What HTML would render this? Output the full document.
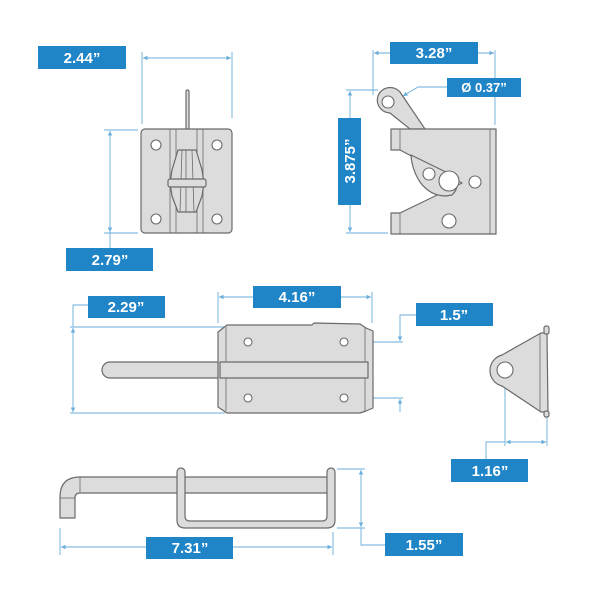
<!DOCTYPE html>
<html><head><style>
html,body{margin:0;padding:0;background:#fff}
svg{display:block}
.p{fill:#dcdcdc;stroke:#6a6a6a;stroke-width:1.2;stroke-linejoin:round}
.l{stroke:#6a6a6a;stroke-width:0.8;fill:none}
.h{fill:#fff;stroke:#6a6a6a;stroke-width:1.1}
.d{stroke:#6aaedb;stroke-width:0.9;fill:none}
.b{fill:#1f85c7}
.t{fill:#fff;font-family:"Liberation Sans",sans-serif;font-weight:bold;font-size:15px;text-anchor:middle}
</style></head><body>
<svg width="600" height="600" viewBox="0 0 600 600" xmlns="http://www.w3.org/2000/svg">
<defs>
<marker id="a" viewBox="0 0 6 6" refX="6" refY="3" markerWidth="5" markerHeight="5" orient="auto-start-reverse"><path d="M0,0L6,3L0,6z" fill="#6aaedb"/></marker>
</defs>

<!-- Part 1 -->
<line class="d" x1="142" y1="52" x2="142" y2="124"/>
<line class="d" x1="232" y1="52" x2="232" y2="118"/>
<line class="d" x1="143" y1="58" x2="231" y2="58" marker-start="url(#a)" marker-end="url(#a)"/>
<line class="d" x1="104" y1="130" x2="138" y2="130"/>
<line class="d" x1="104" y1="233" x2="138" y2="233"/>
<line class="d" x1="110" y1="131" x2="110" y2="232" marker-start="url(#a)" marker-end="url(#a)"/>
<line class="d" x1="110" y1="232" x2="110" y2="248"/>
<rect class="p" x="186" y="90" width="3" height="40" rx="1.5"/>
<rect class="p" x="141" y="129" width="91" height="104" rx="4"/>
<line class="l" x1="170" y1="129" x2="170" y2="233"/><line class="l" x1="176" y1="129" x2="176" y2="233"/>
<line class="l" x1="197" y1="129" x2="197" y2="233"/><line class="l" x1="203" y1="129" x2="203" y2="233"/>
<path class="p" d="M178,150 L196,150 L202,170 L204,183 L202,196 L196,212 L178,212 L172,196 L170,183 L172,170 Z"/>
<line class="l" x1="182" y1="150" x2="180" y2="212"/><line class="l" x1="192" y1="150" x2="194" y2="212"/>
<line class="l" x1="186" y1="150" x2="186" y2="212"/>
<rect class="p" x="168" y="179" width="38" height="8" rx="2"/>
<circle class="h" cx="156" cy="145" r="5"/><circle class="h" cx="217" cy="145" r="5"/>
<circle class="h" cx="156" cy="219" r="5"/><circle class="h" cx="217" cy="219" r="5"/>
<rect class="b" x="38" y="46" width="88" height="23"/><text class="t" x="82" y="63">2.44”</text>
<rect class="b" x="66" y="248" width="87" height="23"/><text class="t" x="110" y="265">2.79”</text>

<!-- Part 2 -->
<line class="d" x1="373" y1="50" x2="373" y2="95"/>
<line class="d" x1="495" y1="50" x2="495" y2="125"/>
<line class="d" x1="374" y1="53" x2="494" y2="53" marker-start="url(#a)" marker-end="url(#a)"/>
<line class="d" x1="346" y1="90" x2="378" y2="90"/>
<line class="d" x1="346" y1="233" x2="388" y2="233"/>
<line class="d" x1="350" y1="91" x2="350" y2="232" marker-start="url(#a)" marker-end="url(#a)"/>
<polyline class="d" points="447,87 418,87 403,96" marker-end="url(#a)"/>
<path class="p" d="M378,96 A13,13 0 0 1 400,92 L425,129 L410,129 L390,113 A13,13 0 0 1 378,96 Z"/>
<circle class="h" cx="388" cy="102" r="6"/>
<path class="p" d="M391,129 L496,129 L496,234 L391,234 L391,213 L400,213 L462,183 L400,150 L391,150 Z"/>
<line class="l" x1="400" y1="129" x2="400" y2="150"/><line class="l" x1="400" y1="213" x2="400" y2="234"/>
<line class="l" x1="490" y1="129" x2="490" y2="234"/>
<path class="p" d="M411,155 L452,175 Q462,185 452,195 L446,196 Q430,196 420,182 Q412,170 411,155 Z"/>
<circle class="h" cx="429" cy="174" r="6"/>
<circle class="h" cx="449" cy="181" r="10"/>
<circle class="h" cx="475" cy="182" r="6"/>
<circle class="h" cx="449" cy="221" r="7"/>
<rect class="b" x="390" y="42" width="88" height="22"/><text class="t" x="434" y="58">3.28”</text>
<rect class="b" x="447" y="78" width="74" height="19"/><text class="t" x="484" y="92" style="font-size:13px">Ø 0.37”</text>
<rect class="b" x="338" y="118" width="23" height="87"/><text class="t" transform="translate(355,161) rotate(-90)">3.875”</text>

<!-- Part 3 -->
<polyline class="d" points="88,305 73,305 73,327"/>
<line class="d" x1="70" y1="327" x2="225" y2="327"/>
<line class="d" x1="70" y1="413" x2="225" y2="413"/>
<line class="d" x1="73" y1="328" x2="73" y2="412" marker-start="url(#a)" marker-end="url(#a)"/>
<line class="d" x1="218" y1="292" x2="218" y2="323"/>
<line class="d" x1="372" y1="292" x2="372" y2="323"/>
<line class="d" x1="219" y1="297" x2="371" y2="297" marker-start="url(#a)" marker-end="url(#a)"/>
<line class="d" x1="348" y1="342" x2="403" y2="342"/>
<line class="d" x1="348" y1="398" x2="403" y2="398"/>
<polyline class="d" points="416,315 400,315 400,341" marker-end="url(#a)"/>
<line class="d" x1="400" y1="412" x2="400" y2="399" marker-end="url(#a)"/>
<path class="p" d="M110,362 L220,362 L220,378 L110,378 A8,8 0 0 1 110,362 Z"/>
<path class="p" d="M227,325 L312,325 L314,323 L360,324 L366,328 L373,331 L373,408 L366,411 L360,413 L227,413 L218,407 L218,332 Z"/>
<line class="l" x1="226" y1="327" x2="226" y2="411"/><line class="l" x1="365" y1="327" x2="365" y2="411"/>
<rect class="p" x="220" y="362" width="148" height="16"/>
<circle class="h" cx="248" cy="342" r="4"/><circle class="h" cx="344" cy="342" r="4"/>
<circle class="h" cx="248" cy="398" r="4"/><circle class="h" cx="344" cy="398" r="4"/>
<rect class="b" x="88" y="296" width="77" height="22"/><text class="t" x="126" y="312">2.29”</text>
<rect class="b" x="253" y="286" width="88" height="22"/><text class="t" x="297" y="302">4.16”</text>
<rect class="b" x="416" y="303" width="77" height="23"/><text class="t" x="454" y="320">1.5”</text>

<!-- Part 4 -->
<line class="d" x1="505" y1="376" x2="505" y2="446"/>
<line class="d" x1="547" y1="414" x2="547" y2="446"/>
<line class="d" x1="506" y1="442" x2="546" y2="442" marker-start="url(#a)" marker-end="url(#a)"/>
<polyline class="d" points="486,459 486,442 505,442"/>
<path class="p" d="M541,333 L547,333 L548,412 L541,412 L502,386 A16,16 0 0 1 502,355 Z"/>
<line class="l" x1="540" y1="334" x2="540" y2="411"/>
<rect class="p" x="544" y="326" width="5" height="8" rx="2"/>
<rect class="p" x="544" y="411" width="5" height="6" rx="2"/>
<circle class="h" cx="505" cy="370" r="8"/>
<rect class="b" x="451" y="459" width="77" height="23"/><text class="t" x="490" y="476">1.16”</text>

<!-- Part 5 -->
<line class="d" x1="60" y1="528" x2="60" y2="555"/>
<line class="d" x1="333" y1="532" x2="333" y2="555"/>
<line class="d" x1="61" y1="547" x2="332" y2="547" marker-start="url(#a)" marker-end="url(#a)"/>
<line class="d" x1="337" y1="469" x2="365" y2="469"/>
<line class="d" x1="337" y1="528" x2="365" y2="528"/>
<line class="d" x1="361" y1="470" x2="361" y2="527" marker-start="url(#a)" marker-end="url(#a)"/>
<polyline class="d" points="361,528 361,545 385,545"/>
<path class="p" d="M80,477 L330,477 L330,493 L80,493 Q75,493 75,498 L75,518 L60,518 L60,497 Q60,477 80,477 Z"/>
<line class="l" x1="80" y1="477" x2="80" y2="493"/><line class="l" x1="60" y1="498" x2="75" y2="498"/>
<path class="p" d="M177,472 A4,4 0 0 1 185,472 L185,516 Q185,521 190,521 L322,521 Q327,521 327,516 L327,472 A4,4 0 0 1 335,472 L335,520 Q335,528 327,528 L185,528 Q177,528 177,520 Z"/>
<rect class="b" x="146" y="537" width="87" height="22"/><text class="t" x="190" y="553">7.31”</text>
<rect class="b" x="385" y="533" width="78" height="23"/><text class="t" x="424" y="550">1.55”</text>
</svg>
</body></html>
